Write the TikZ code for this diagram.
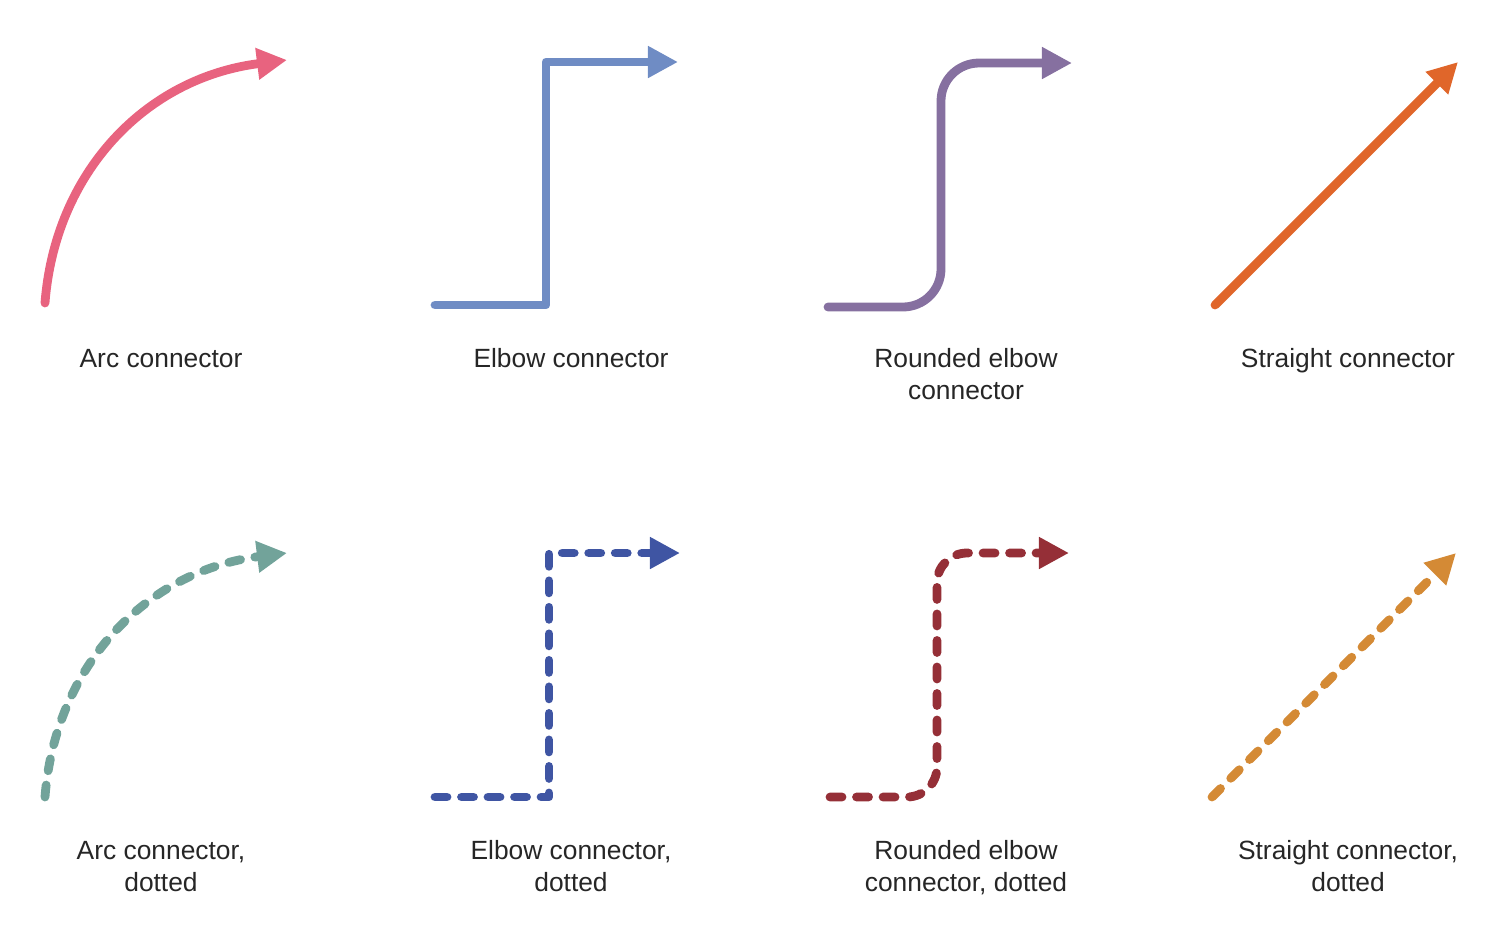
\documentclass[tikz,border=0pt]{standalone}
\usepackage{fontspec}
\setmainfont{Liberation Sans}
\usetikzlibrary{arrows.meta}
\definecolor{cpink}{HTML}{E8637F}
\definecolor{cblue}{HTML}{6F8CC4}
\definecolor{cpurple}{HTML}{8670A0}
\definecolor{corange}{HTML}{E0662A}
\definecolor{cteal}{HTML}{72A39A}
\definecolor{cnavy}{HTML}{3F55A3}
\definecolor{cred}{HTML}{952F37}
\definecolor{cgold}{HTML}{D48A35}
\definecolor{txt}{HTML}{262626}
\begin{document}
\begin{tikzpicture}[x=0.01cm,y=-0.01cm,
  conn/.style={line width=0.088cm, line cap=round, line join=round,
    -{Triangle[length=0.3cm,width=0.3cm]}},
  dotconn/.style={conn, dash pattern=on 0.12cm off 0.145cm},
  lbl/.style={font=\fontsize{7.5}{9.1}\selectfont, text=txt, align=center,
    anchor=base, inner sep=0pt}]
\useasboundingbox (0,0) rectangle (1500,930);

% top row
\coordinate (a1s) at (45,303);
\coordinate (a1e) at (287,60);
\draw[conn, cpink] (a1s) .. controls +(10,-130) and +(-142,18) .. (a1e);

\coordinate (e1s) at (435,305);
\coordinate (e1m) at (546,62);
\coordinate (e1e) at (678,62);
\draw[conn, cblue] (e1s) -| (e1m) -- (e1e);

\coordinate (r1s) at (828,307);
\coordinate (r1m) at (941,63);
\coordinate (r1e) at (1072,63);
\draw[conn, cpurple, rounded corners=0.38cm] (r1s) -| (r1m) -- (r1e);

\coordinate (s1s) at (1215,305);
\coordinate (s1e) at (1458,62);
\draw[conn, corange] (s1s) -- (s1e);

% bottom row
\coordinate (a2s) at (45,797);
\coordinate (a2e) at (287,553);
\draw[dotconn, cteal] (a2s) .. controls +(10,-130) and +(-142,18) .. (a2e);

\coordinate (e2s) at (435,797);
\coordinate (e2m) at (549,553);
\coordinate (e2e) at (680,553);
\draw[dotconn, cnavy] (e2s) -| (e2m) -- (e2e);

\coordinate (r2s) at (830,797);
\coordinate (r2m) at (937,553);
\coordinate (r2e) at (1069,553);
\draw[dotconn, cred, rounded corners=0.3cm] (r2s) -| (r2m) -- (r2e);

\coordinate (s2s) at (1212,797);
\coordinate (s2e) at (1456,553);
\draw[dotconn, cgold] (s2s) -- (s2e);

% labels (anchor base = baseline of the last line)
\node[lbl] (l1) at (161,367) {Arc connector};
\node[lbl] (l2) at (571,367) {Elbow connector};
\node[lbl] (l3) at (966,399) {Rounded elbow\\connector};
\node[lbl] (l4) at (1348,367) {Straight connector};
\node[lbl] (l5) at (161,891) {Arc connector,\\dotted};
\node[lbl] (l6) at (571,891) {Elbow connector,\\dotted};
\node[lbl] (l7) at (966,891) {Rounded elbow\\connector, dotted};
\node[lbl] (l8) at (1348,891) {Straight connector,\\dotted};
\end{tikzpicture}
\end{document}
